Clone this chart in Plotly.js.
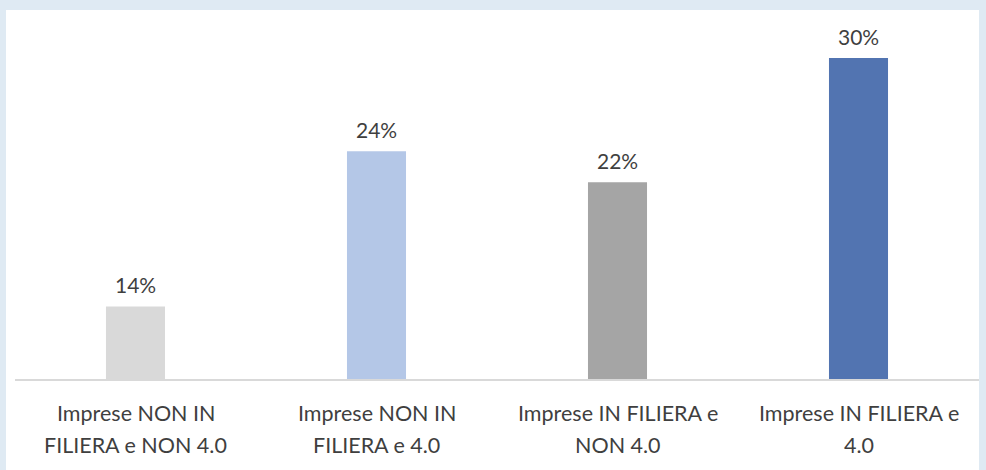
<!DOCTYPE html>
<html>
<head>
<meta charset="utf-8">
<script src="https://cdn.plot.ly/plotly-3.0.1.min.js"></script>
<style>html,body{margin:0;padding:0;background:#dfeaf3;}#chart{width:986px;height:470px;}</style>
</head>
<body>
<div id="chart"></div>
<script>
var categories = ["Imprese NON IN FILIERA e NON 4.0", "Imprese NON IN FILIERA e 4.0", "Imprese IN FILIERA e NON 4.0", "Imprese IN FILIERA e 4.0"];
var labelLine1 = ["Imprese NON IN", "Imprese NON IN", "Imprese IN FILIERA e", "Imprese IN FILIERA e"];
var labelLine2 = ["FILIERA e NON 4.0", "FILIERA e 4.0", "NON 4.0", "4.0"];
var values = [0.14, 0.24, 0.22, 0.30];
var barColors = ["#d9d9d9", "#b4c7e7", "#a5a5a5", "#5274b1"];

var FONT = "Lato, 'Open Sans', sans-serif";
var TXT = "#3f3f3f";

var annotations = [];
for (var i = 0; i < categories.length; i++) {
  annotations.push({x: categories[i], y: values[i], xref: 'x', yref: 'y', text: Math.round(values[i]*100) + '%',
    showarrow: false, yanchor: 'middle', yshift: 22, font: {family: FONT, size: 21, color: TXT}});
  annotations.push({x: categories[i], y: 0, xref: 'x', yref: 'paper', text: labelLine1[i],
    showarrow: false, yanchor: 'middle', yshift: -34, font: {family: FONT, size: 21.5, color: TXT}});
  annotations.push({x: categories[i], y: 0, xref: 'x', yref: 'paper', text: labelLine2[i],
    showarrow: false, yanchor: 'middle', yshift: -66, font: {family: FONT, size: 21.5, color: TXT}});
}

var trace = {
  type: 'bar', x: categories, y: values,
  marker: {color: barColors, line: {width: 0}},
  hoverinfo: 'none'
};

var layout = {
  width: 986, height: 470,
  margin: {l: 15, r: 7, t: 30, b: 91},
  paper_bgcolor: '#dfeaf3',
  plot_bgcolor: 'rgba(0,0,0,0)',
  bargap: 0.755,
  showlegend: false,
  xaxis: {type: 'category', showticklabels: false, ticks: '', showgrid: false, zeroline: false,
    showline: true, linecolor: '#d9d9d9', linewidth: 1.5, fixedrange: true},
  yaxis: {range: [0.0934, 0.3181], visible: false, showgrid: false, zeroline: false, fixedrange: true},
  shapes: [{type: 'rect', xref: 'paper', yref: 'paper', layer: 'below',
    x0: -9/964, x1: 1.0, y0: -100/349, y1: 369/349, fillcolor: '#ffffff', line: {width: 0}}],
  annotations: annotations
};

Plotly.newPlot('chart', [trace], layout, {displayModeBar: false, staticPlot: true});
</script>
</body>
</html>
